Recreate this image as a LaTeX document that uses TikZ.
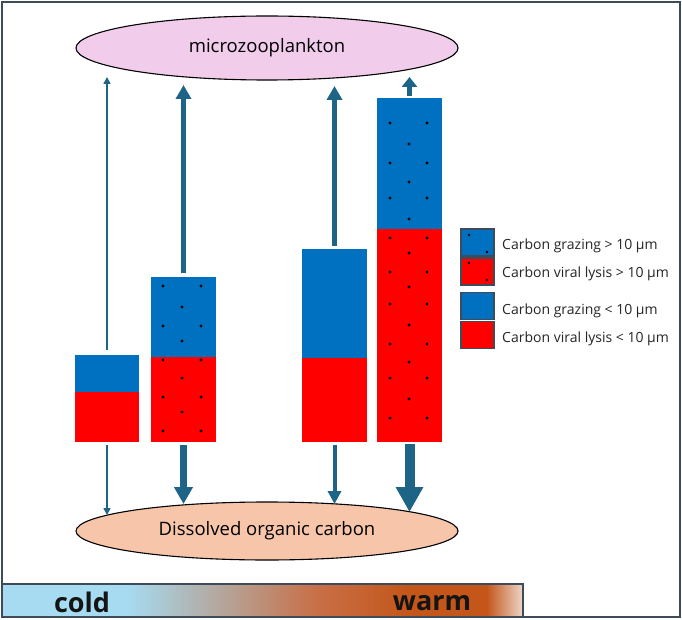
\documentclass[tikz,border=0pt]{standalone}
\usepackage{fontspec}
\setmainfont{Open Sans}
\usetikzlibrary{arrows.meta,shapes.geometric}
\definecolor{cblue}{HTML}{0070C0}
\definecolor{cred}{HTML}{FF0000}
\definecolor{arr}{HTML}{1E6487}
\definecolor{pinkfill}{HTML}{F1CDEB}
\definecolor{peach}{HTML}{F7C6AA}
\definecolor{framec}{HTML}{3E4B5B}
\definecolor{coldc}{HTML}{A6DBF1}
\definecolor{midc}{HTML}{B4A69C}
\definecolor{brownc}{HTML}{C87048}
\definecolor{warmc}{HTML}{C4561A}
\definecolor{endc}{HTML}{EDD6CA}
\pgfdeclarehorizontalshading{tempshade}{100bp}{color(0bp)=(coldc); color(37bp)=(coldc); color(46bp)=(midc); color(55bp)=(brownc); color(64bp)=(warmc); color(71.5bp)=(warmc); color(75bp)=(endc); color(100bp)=(endc)}
\begin{document}
\begin{tikzpicture}[x=1pt,y=-1pt,
  seg/.style={rectangle, inner sep=0pt, outer sep=0pt, draw=none},
  gz/.style={seg, fill=cblue},
  vl/.style={seg, fill=cred},
  legbox/.style={rectangle, inner sep=0pt, outer sep=0pt, draw=framec, line width=1.2pt, minimum width=33pt, minimum height=27pt},
  legtxt/.style={anchor=base west, inner sep=0pt, font=\fontsize{14}{16}\selectfont, text=black!85},
  flow/.style={draw=arr, line cap=butt},
  w1/.style={flow, line width=1.6pt, -{Triangle[length=7pt,width=7pt]}},
  w2u/.style={flow, line width=4.5pt, -{Triangle[length=14pt,width=15pt]}},
  w2d/.style={flow, line width=6.5pt, -{Triangle[length=17pt,width=18pt]}},
  w3u/.style={flow, line width=5.5pt, -{Triangle[length=14pt,width=15pt]}},
  w3d/.style={flow, line width=4pt, -{Triangle[length=13pt,width=13pt]}},
  w4u/.style={flow, line width=5.5pt, -{Triangle[length=10pt,width=15pt]}},
  w4d/.style={flow, line width=10pt, -{Triangle[length=25pt,width=26pt]}},
  dot/.style={fill=black}
]
\useasboundingbox (0,0) rectangle (682,620);
\fill[white] (0,0) rectangle (682,620);

% temperature bar
\shade[shading=tempshade] (2,584) rectangle (523,617);
\draw[framec, line width=1.2pt] (2,584) -- (523,584) -- (523,617);
\node[font=\fontsize{27}{30}\selectfont\bfseries, text=black!92, inner sep=0pt] (cold) at (82,602) {cold};
\node[font=\fontsize{27}{30}\selectfont\bfseries, text=black!92, inner sep=0pt] (warm) at (432,603) {warm};

% outer frame
\draw[framec, line width=1.3pt] (2,2) rectangle (680,617);

% ellipses
\node[ellipse, draw=black, line width=1.1pt, fill=pinkfill, minimum width=382pt, minimum height=64pt, inner sep=0pt, font=\fontsize{18.5}{22}\selectfont] (mz) at (267,48) {microzooplankton};
\node[ellipse, draw=black, line width=1.1pt, fill=peach, minimum width=382pt, minimum height=58pt, inner sep=0pt, font=\fontsize{18.5}{22}\selectfont] (doc) at (267,531) {Dissolved organic carbon};

% bars
\node[gz, minimum width=64pt, minimum height=37pt] (b1g) at (107,373.5) {};
\node[vl, minimum width=64pt, minimum height=50pt] (b1v) at (107,417) {};
\node[gz, minimum width=65pt, minimum height=80pt] (b2g) at (183.5,317) {};
\node[vl, minimum width=65pt, minimum height=85pt] (b2v) at (183.5,399.5) {};
\node[gz, minimum width=65pt, minimum height=109pt] (b3g) at (334.5,303.5) {};
\node[vl, minimum width=65pt, minimum height=84pt] (b3v) at (334.5,400) {};
\node[gz, minimum width=65pt, minimum height=131pt] (b4g) at (409.5,163.5) {};
\node[vl, minimum width=65pt, minimum height=213pt] (b4v) at (409.5,335.5) {};

% dots bar 2
\foreach \y in {286,326,360,397,431} {\fill[dot] (163,\y) circle (1.6pt); \fill[dot] (201,\y) circle (1.6pt);}
\foreach \y in {307,341,378,412} {\fill[dot] (182,\y) circle (1.6pt);}
% dots bar 4
\foreach \y in {123,163,198,238,272,304,344,378,418} {\fill[dot] (390,\y) circle (1.6pt); \fill[dot] (427,\y) circle (1.6pt);}
\foreach \y in {144,182,219,253,287,325,362,399} {\fill[dot] (409,\y) circle (1.6pt);}

% arrow end coordinates
\coordinate (u1) at (0,77);
\coordinate (u2) at (0,85);
\coordinate (u3) at (0,86);
\coordinate (u4) at (0,77);
\coordinate (d1) at (0,515);
\coordinate (d2) at (0,504);
\coordinate (d3) at (0,504);
\coordinate (d4) at (0,512);

% up arrows
\draw[w1] ([yshift=5pt]b1g.north) -- (b1g.north |- u1);
\draw[w2u] ([yshift=4pt]b2g.north) -- (b2g.north |- u2);
\draw[w3u] ([yshift=3pt]b3g.north) -- (b3g.north |- u3);
\draw[w4u] ([yshift=2pt]b4g.north) -- (b4g.north |- u4);
% down arrows
\draw[w1] ([yshift=-3pt]b1v.south) -- (b1v.south |- d1);
\draw[w2d] ([yshift=-3pt]b2v.south) -- (b2v.south |- d2);
\draw[w3d] ([yshift=-3pt]b3v.south) -- (b3v.south |- d3);
\draw[w4d] ([yshift=-2pt]b4v.south) -- (b4v.south |- d4);

% legend
\node[legbox, fill=cblue] (l1) at (477.5,242.5) {};
\node[legbox, fill=cred] (l2) at (477.5,271.5) {};
\node[legbox, fill=cblue] (l3) at (477.5,306) {};
\node[legbox, fill=cred] (l4) at (477.5,335) {};
\fill[dot] (469,235) circle (1.4pt);
\fill[dot] (487,252) circle (1.4pt);
\fill[dot] (469,263) circle (1.4pt);
\fill[dot] (487,280) circle (1.4pt);
\node[legtxt] (t1) at (502,249) {Carbon grazing > 10 μm};
\node[legtxt] (t2) at (502,277) {Carbon viral lysis > 10 μm};
\node[legtxt] (t3) at (502,314) {Carbon grazing < 10 μm};
\node[legtxt] (t4) at (502,342) {Carbon viral lysis < 10 μm};
\end{tikzpicture}
\end{document}
